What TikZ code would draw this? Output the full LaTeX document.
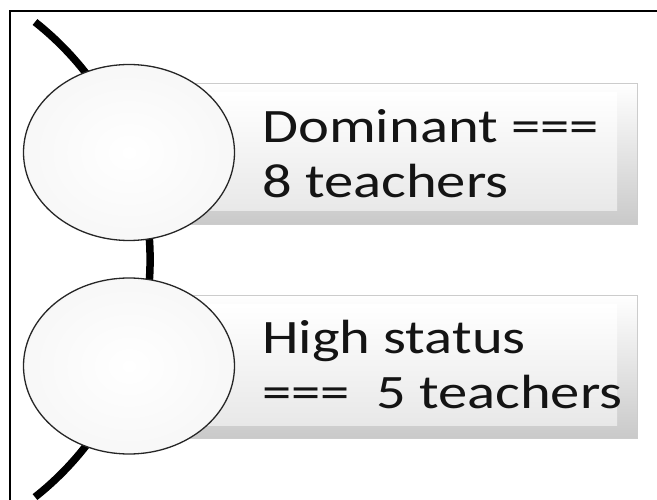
\documentclass[tikz,border=0pt]{standalone}
\usepackage{fontspec}
\setmainfont{Carlito}
\usetikzlibrary{shapes.geometric}
\tikzset{
  bevelouter/.style={rectangle, draw=gray!40, line width=0.8pt, top color=white, bottom color=gray!42, inner sep=0pt},
  bevelinner/.style={rectangle, top color=white, bottom color=gray!18, inner sep=0pt},
  bubble/.style={ellipse, draw=black!85, line width=1.3pt, inner color=white, outer color=gray!6, minimum width=211pt, minimum height=176pt, inner sep=0pt},
  label/.style={anchor=west, align=left, inner sep=0pt, text=black!92, xscale=1.22, font=\fontsize{48}{55}\selectfont},
  spine/.style={line width=7.5pt, black},
  frameline/.style={line width=1.4pt, black}
}
\begin{document}
\begin{tikzpicture}[x=1pt,y=-1pt]
\useasboundingbox (0,0) rectangle (657,500);
\draw[frameline] (10,500) -- (10,11) -- (657,11);
% spine arc
\coordinate (arcstart) at (35,22);
\draw[spine] (arcstart) arc[start angle=51.7, end angle=-51.7, radius=302.7pt] coordinate (arcend);
% boxes
\node[bevelouter, minimum width=487pt, minimum height=141pt] (box1) at (393.5,153.5) {};
\node[bevelinner, minimum width=460pt, minimum height=118pt] (in1) at (387,152) {};
\node[bevelouter, minimum width=487pt, minimum height=143pt] (box2) at (393.5,366.5) {};
\node[bevelinner, minimum width=460pt, minimum height=120pt] (in2) at (387,365) {};
% ellipses
\node[bubble] (e1) at (129,152.5) {};
\node[bubble] (e2) at (129,366) {};
% texts
\node[label] (t1) at (262,154) {Dominant ===\\8 teachers};
\node[label] (t2) at (262,365) {High status\\===\ \ 5 teachers};
\end{tikzpicture}
\end{document}
